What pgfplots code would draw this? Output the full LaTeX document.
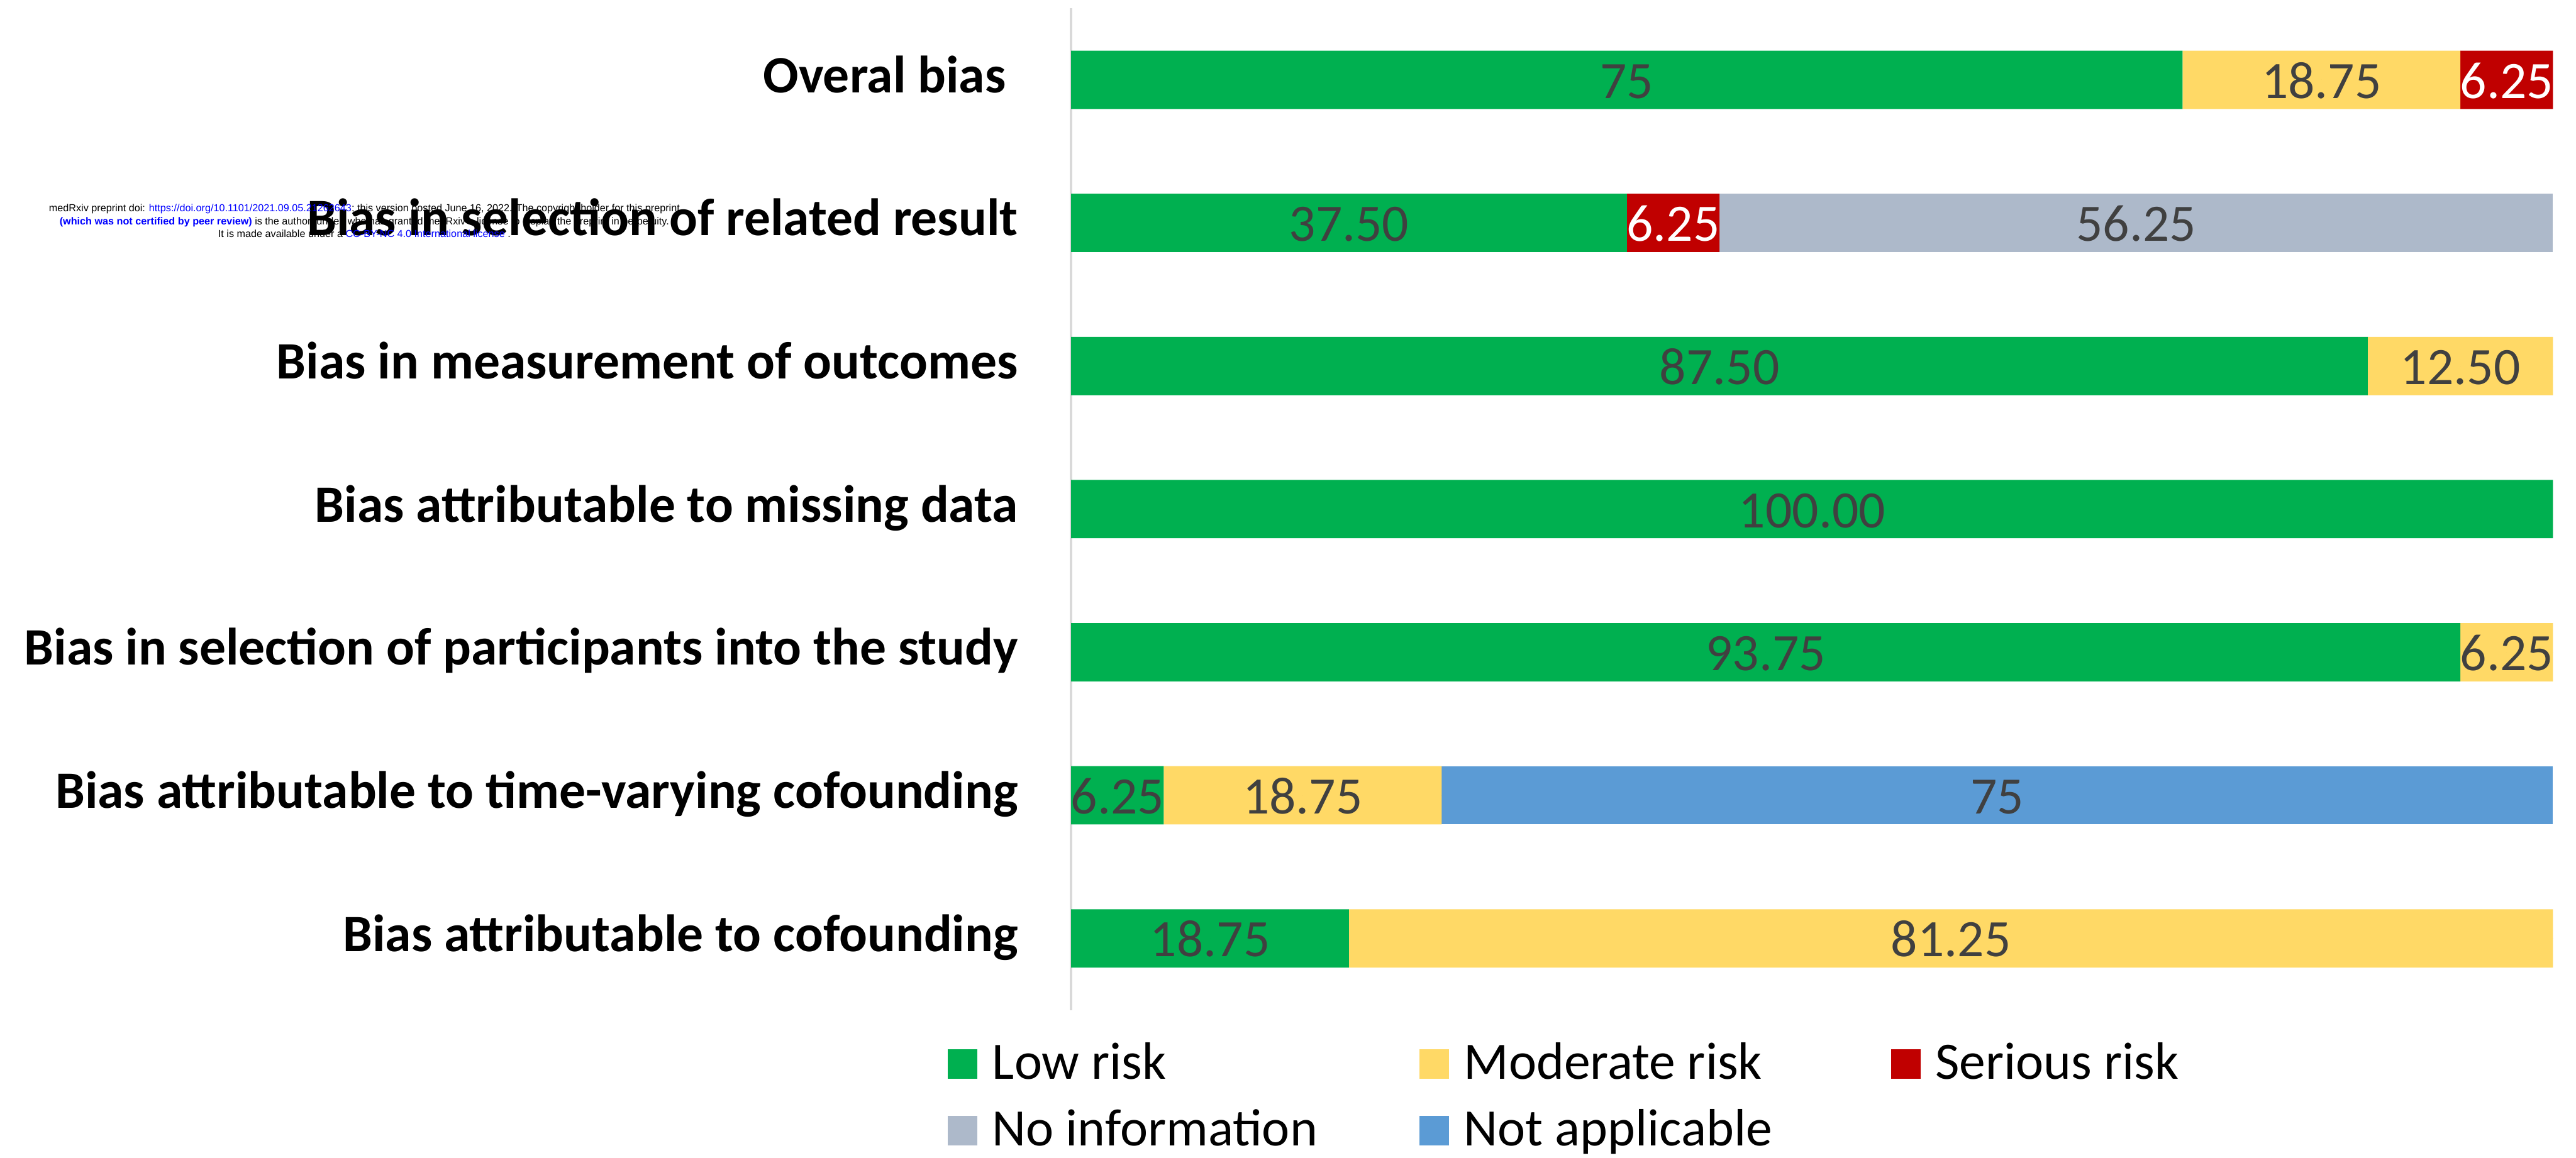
\documentclass[border=0pt]{standalone}
\usepackage{pgfplots}
\pgfplotsset{compat=1.18}
\usepackage{pgfplotstable}
\usepackage{fontspec}
\setmainfont{Carlito}
\newfontfamily\wmfont{Liberation Sans}

\definecolor{lowc}{HTML}{00B050}
\definecolor{modc}{HTML}{FFD966}
\definecolor{serc}{HTML}{C00000}
\definecolor{noic}{HTML}{ADB9CA}
\definecolor{nac}{HTML}{5B9BD5}
\definecolor{numc}{HTML}{404040}
\definecolor{axc}{HTML}{D9D9D9}
\definecolor{wmblue}{RGB}{0,0,255}

\pgfplotstableread{
idx low mod ser noi na lowL modL serL noiL naL
0 75 18.75 6.25 0 0 75 18.75 6.25 {} {}
1 37.5 0 6.25 56.25 0 37.50 {} 6.25 56.25 {}
2 87.5 12.5 0 0 0 87.50 12.50 {} {} {}
3 100 0 0 0 0 100.00 {} {} {} {}
4 93.75 6.25 0 0 0 93.75 6.25 {} {} {}
5 6.25 18.75 0 0 75 6.25 18.75 {} {} 75
6 18.75 81.25 0 0 0 18.75 81.25 {} {} {}
}\datatable

\begin{document}
\begin{tikzpicture}
\begin{axis}[
  at={(326pt,45pt)}, anchor=south west,
  scale only axis, width=451pt, height=305pt,
  xbar stacked, bar width=17.75pt,
  xmin=0, xmax=100, ymin=-0.5, ymax=6.5, y dir=reverse,
  axis x line=none, axis y line*=left,
  y axis line style={-, draw=axc, line width=0.8pt},
  ytick={0,...,6}, major tick length=0pt, ytick style={draw=none},
  yticklabels={Overal bias\hspace*{0.226em}, Bias in selection of related result, Bias in measurement of outcomes, Bias attributable to missing data, Bias in selection of participants into the study, Bias attributable to time-varying cofounding, Bias attributable to cofounding},
  yticklabel style={font=\bfseries\fontsize{16}{19}\selectfont, anchor=base east, inner sep=0pt, xshift=-16pt, yshift=-3.9pt},
  legend columns=3,
  legend cell align=left,
  legend image code/.code={\fill[#1] (0pt,-4pt) rectangle (9pt,5pt); \path (13.5pt,0pt);},
  legend style={at={(axis description cs:-0.0831,-0.0295)}, anchor=north west,
    draw=none, fill=none, inner sep=0pt, outer sep=0pt, row sep=4.25pt, column sep=0pt,
    font=\fontsize{16}{19}\selectfont,
    nodes={inner sep=0pt, text height=12pt, text depth=4pt}},
]
\addplot[fill=lowc, draw=none] table[x=low, y=idx] {\datatable};
\addlegendentry{\makebox[130pt][l]{Low risk}}
\addplot[fill=modc, draw=none] table[x=mod, y=idx] {\datatable};
\addlegendentry{\makebox[130pt][l]{Moderate risk}}
\addplot[fill=serc, draw=none] table[x=ser, y=idx] {\datatable};
\addlegendentry{\makebox[130pt][l]{Serious risk}}
\addplot[fill=noic, draw=none] table[x=noi, y=idx] {\datatable};
\addlegendentry{\makebox[130pt][l]{No information}}
\addplot[fill=nac, draw=none] table[x=na, y=idx] {\datatable};
\addlegendentry{\makebox[130pt][l]{Not applicable}}
\end{axis}

\begin{axis}[
  at={(326pt,45pt)}, anchor=south west,
  scale only axis, width=451pt, height=305pt,
  xmin=0, xmax=100, ymin=-0.5, ymax=6.5, y dir=reverse,
  hide axis, clip=false,
  point meta=explicit symbolic,
  nodes near coords,
  every node near coord/.style={anchor=base, yshift=-5.6pt, inner sep=0pt, font=\fontsize{16}{19}\selectfont, text=numc},
]
\addplot[only marks, mark=*, mark size=0pt, mark options={draw=none, fill=none}]
  table[x expr=\thisrow{low}/2, y=idx, meta=lowL] {\datatable};
\addplot[only marks, mark=*, mark size=0pt, mark options={draw=none, fill=none}]
  table[x expr=\thisrow{low}+\thisrow{mod}/2, y=idx, meta=modL] {\datatable};
\addplot[only marks, mark=*, mark size=0pt, mark options={draw=none, fill=none},
  every node near coord/.append style={text=white}]
  table[x expr=\thisrow{low}+\thisrow{mod}+\thisrow{ser}/2, y=idx, meta=serL] {\datatable};
\addplot[only marks, mark=*, mark size=0pt, mark options={draw=none, fill=none}]
  table[x expr=\thisrow{low}+\thisrow{mod}+\thisrow{ser}+\thisrow{noi}/2, y=idx, meta=noiL] {\datatable};
\addplot[only marks, mark=*, mark size=0pt, mark options={draw=none, fill=none}]
  table[x expr=\thisrow{low}+\thisrow{mod}+\thisrow{ser}+\thisrow{noi}+\thisrow{na}/2, y=idx, meta=naL] {\datatable};
\end{axis}

\node[anchor=center, align=center, inner sep=0pt, font=\wmfont\fontsize{3.1}{2.5}\selectfont] at (110.9pt,285.25pt)
{medRxiv preprint doi: \textcolor{wmblue}{https://doi.org/10.1101/2021.09.05.21262643}; this version posted June 16, 2022. The copyright holder for this preprint\\
\textcolor{wmblue}{\bfseries (which was not certified by peer review)} is the author/funder, who has granted medRxiv a license to display the preprint in perpetuity.\\
It is made available under a \textcolor{wmblue}{CC-BY-NC 4.0 International license} .};

\pgfresetboundingbox
\path[use as bounding box] (0,0) rectangle (784pt,352.5pt);
\end{tikzpicture}
\end{document}
